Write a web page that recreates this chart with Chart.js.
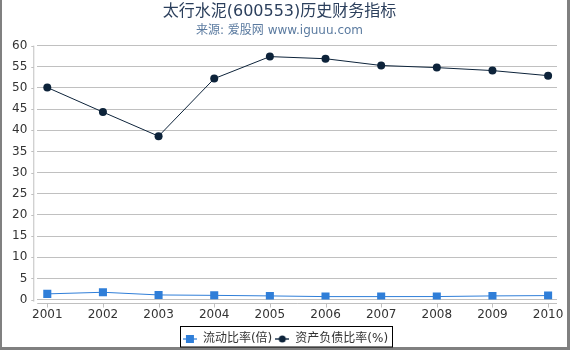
<!DOCTYPE html>
<html><head><meta charset="utf-8">
<script src="https://cdn.jsdelivr.net/npm/chart.js@4.4.0/dist/chart.umd.min.js"></script>
<style>html,body{margin:0;padding:0;background:#fff;}#wrap{position:relative;width:570px;height:350px;}</style>
</head><body><div id="wrap"><canvas id="c" width="570" height="350"></canvas></div>
<script>
const years = [2001,2002,2003,2004,2005,2006,2007,2008,2009,2010];
const currentRatio = [1.35,1.73,1.1,1.0,0.87,0.71,0.71,0.72,0.87,0.95];
const debtRatio = [50.1,44.3,38.6,52.2,57.4,56.9,55.3,54.8,54.1,52.9];
const yTicks = [0,5,10,15,20,25,30,35,40,45,50,55,60];
const seriesNames = ['流动比率(倍)','资产负债比率(%)'];
const colors = ['#2f7ed8','#0d233a'];
const FONT = '"DejaVu Sans","Noto Sans CJK SC",sans-serif';

function legendIcon(color, square){
  const c = document.createElement('canvas'); c.width = 14; c.height = 10;
  const g = c.getContext('2d');
  g.strokeStyle = square ? '#7fb0e8' : '#5a6a7c'; g.lineWidth = 2;
  g.beginPath(); g.moveTo(0,5); g.lineTo(14,5); g.stroke();
  g.fillStyle = color;
  if (square) g.fillRect(3,1,8,8); else { g.beginPath(); g.arc(7,5,3.5,0,Math.PI*2); g.fill(); }
  return c;
}
const icons = [legendIcon(colors[0], true), legendIcon(colors[1], false)];

const decor = {
  id:'decor',
  afterLayout(chart){
    const lg = chart.legend;
    lg.left += 6; lg.right += 6; lg.top += 8; lg.bottom += 8;
  },
  afterDraw(chart){
    const ctx = chart.ctx, a = chart.chartArea;
    ctx.save();
    ctx.fillStyle = '#808080';
    ctx.fillRect(0,0,2,350); ctx.fillRect(567,0,3,350); ctx.fillRect(0,347,570,3);
    ctx.strokeStyle = '#c0c0c0'; ctx.lineWidth = 1;
    ctx.beginPath(); ctx.moveTo(a.left-3.5, a.top); ctx.lineTo(a.left-3.5, a.bottom+2); ctx.stroke();
    const ys = chart.scales.y;
    ctx.beginPath();
    ys.ticks.forEach(t=>{ const py = Math.round(ys.getPixelForValue(t.value))+0.5; ctx.moveTo(a.left-6, py); ctx.lineTo(a.left-3.5, py); });
    ctx.stroke();
    const xs = chart.scales.x;
    const by = Math.round(a.bottom)+3.5;
    ctx.beginPath(); ctx.moveTo(a.left, by); ctx.lineTo(a.right, by); ctx.stroke();
    ctx.beginPath();
    xs.ticks.forEach(t=>{ const px = Math.round(xs.getPixelForValue(t.value))+0.5; ctx.moveTo(px, by); ctx.lineTo(px, by+4); });
    ctx.stroke();
    const lg = chart.legend;
    const W = (lg.lineWidths && lg.lineWidths[0]) || 200;
    const cx = (lg.left + lg.right) / 2;
    const l = Math.round(cx - W/2 - 1) + 0.5;
    const r = Math.round(cx + W/2 + 2) + 0.5;
    const t = Math.round(lg.top - 4) + 0.5;
    ctx.strokeStyle = '#000'; ctx.lineWidth = 1;
    ctx.strokeRect(l, t, r - l, 347 - t);
    ctx.restore();
  }
};

new Chart(document.getElementById('c'), {
  type:'line',
  data:{
    datasets:[
      {label:seriesNames[0], data: years.map((y,i)=>({x:y,y:currentRatio[i]})), borderColor:colors[0], backgroundColor:colors[0],
       borderWidth:1, pointStyle:'rect', pointRadius:5.7, pointBorderWidth:0, pointBackgroundColor:colors[0], tension:0},
      {label:seriesNames[1], data: years.map((y,i)=>({x:y,y:debtRatio[i]})), borderColor:colors[1], backgroundColor:colors[1],
       borderWidth:1, pointStyle:'circle', pointRadius:4, pointBorderWidth:0, pointBackgroundColor:colors[1], tension:0}
    ]
  },
  options:{
    responsive:false, animation:false, devicePixelRatio:1,
    layout:{padding:{left:2,right:13,top:0,bottom:3}},
    plugins:{
      title:{display:true, text:'太行水泥(600553)历史财务指标', color:'#2b3f5c', font:{family:FONT,size:16,weight:'normal'}, padding:{top:2,bottom:0}},
      subtitle:{display:true, text:'来源: 爱股网 www.iguuu.com', color:'#5b7ba0', font:{family:FONT,size:12,weight:'normal'}, padding:{top:2,bottom:8}},
      legend:{position:'bottom', labels:{usePointStyle:true, pointStyleWidth:14, boxHeight:10, padding:3, color:'#333', font:{family:FONT,size:12},
        generateLabels(chart){ return chart.data.datasets.map((d,i)=>({text:d.label, pointStyle:icons[i], fillStyle:colors[i], strokeStyle:colors[i], lineWidth:0, datasetIndex:i, hidden:false, fontColor:'#333'})); }}},
      tooltip:{enabled:false}
    },
    scales:{
      x:{type:'linear', min:2000.82, max:2010.16, grid:{display:false}, border:{display:false},
         ticks:{stepSize:1, includeBounds:false, padding:0, color:'#333', font:{family:FONT,size:12}, callback:v=>String(v), maxRotation:0, autoSkip:false}},
      y:{min:0, max:60, grid:{color:'#c0c0c0', drawTicks:false, lineWidth:1}, border:{display:false},
         afterBuildTicks(s){ s.ticks = yTicks.map(v=>({value:v})); },
         ticks:{padding:10, color:'#333', font:{family:FONT,size:12}}}
    }
  },
  plugins:[decor]
});
</script></body></html>
